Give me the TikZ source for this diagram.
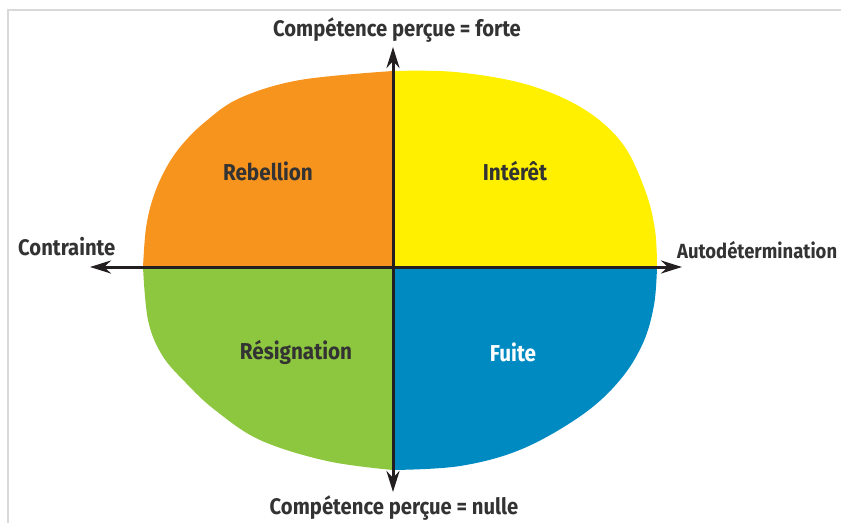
\documentclass[tikz,border=0pt]{standalone}
\usepackage{fontspec}
\setmainfont[FakeStretch=0.9]{Fira Sans}
\usetikzlibrary{arrows.meta}
\definecolor{cOrange}{HTML}{F7941D}
\definecolor{cYellow}{HTML}{FFF000}
\definecolor{cGreen}{HTML}{8DC63F}
\definecolor{cBlue}{HTML}{008AC2}
\definecolor{cAxis}{HTML}{231F20}
\definecolor{cText}{HTML}{333333}
\definecolor{cFrame}{HTML}{D9D9D9}
\tikzset{
  axislbl/.style={font=\bfseries\fontsize{22.5}{26}\selectfont, text=cText, inner sep=0pt},
  quadlbl/.style={font=\bfseries\fontsize{23}{26}\selectfont, text=cText, inner sep=0pt},
  axisarrow/.style={draw=cAxis, line width=3pt, {Stealth[length=21pt,width=13pt]}-{Stealth[length=21pt,width=13pt]}},
}
\begin{document}
\begin{tikzpicture}[x=1pt,y=-1pt]
\useasboundingbox (0,0) rectangle (841,523);
\draw[cFrame, line width=2pt] (8,523) -- (8,10) -- (841,10);
\coordinate (O) at (393,267);
\coordinate (L) at (90,267);
\coordinate (R) at (682,267);
\coordinate (T) at (393,47);
\coordinate (B) at (393,492);
% quadrants
\fill[cOrange] (393,267) -- plot[smooth, tension=0.6] coordinates {(143,267) (146,228) (153,198) (165,170) (181,146) (205,122) (240,98) (300,80) (393,71)} -- cycle;
\fill[cYellow] (393,267) -- plot[smooth, tension=0.6] coordinates {(393,71) (455,72) (525,84) (582,108) (622,143) (645,190) (655,230) (657,267)} -- cycle;
\fill[cBlue] (393,267) -- plot[smooth, tension=0.6] coordinates {(657,267) (654,305) (643,343) (620,380) (582,415) (522,449) (460,466) (393,470)} -- cycle;
\fill[cGreen] (393,267) -- plot[smooth, tension=0.6] coordinates {(393,470) (327,461) (260,440) (215,410) (186,383) (162,355) (148,320) (143,267)} -- cycle;
% axes
\draw[axisarrow] (L) -- (R);
\draw[axisarrow] (B) -- (T);
% labels
\node[axislbl] (top) at (397,30) {Compétence perçue = forte};
\node[axislbl] (bot) at (394,508) {Compétence perçue = nulle};
\node[axislbl, anchor=west] (left) at (18,247) {Contrainte};
\node[axislbl, anchor=west, font=\bfseries\fontsize{20.5}{24}\selectfont] (right) at (677,250) {Autodétermination};
\node[quadlbl] (reb) at (268,171) {Rebellion};
\node[quadlbl] (int) at (515,171) {Intérêt};
\node[quadlbl] (res) at (296,352) {Résignation};
\node[quadlbl, text=white] (fui) at (513,352) {Fuite};
\end{tikzpicture}
\end{document}
